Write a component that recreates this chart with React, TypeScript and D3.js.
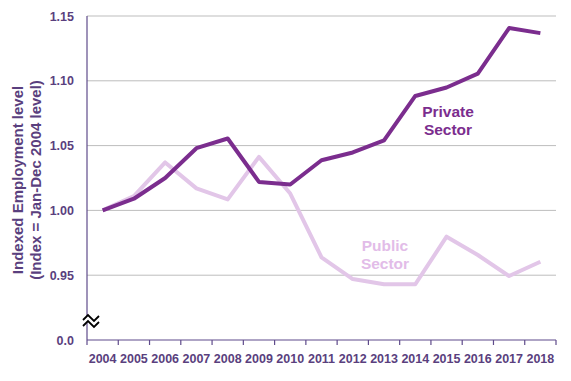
import React from "react";
import * as d3 from "d3";

const years = ["2004","2005","2006","2007","2008","2009","2010","2011","2012","2013","2014","2015","2016","2017","2018"];
const privateSector = [1.0, 1.009, 1.025, 1.048, 1.0555, 1.022, 1.02, 1.0387, 1.0447, 1.054, 1.0883, 1.0948, 1.1055, 1.1407, 1.1368];
const publicSector = [1.0, 1.011, 1.037, 1.017, 1.0085, 1.0413, 1.013, 0.9638, 0.947, 0.943, 0.943, 0.9797, 0.9656, 0.9494, 0.9604];
const yTicks = [0.95, 1.0, 1.05, 1.1, 1.15];
const yTickLabels = ["0.95", "1.00", "1.05", "1.10", "1.15"];

const W = 571, H = 381;
const left = 87, right = 556, top = 16, bottom = 340;
const textCol = "#5a3f7e";

export default function App() {
  const x = d3.scaleBand().domain(years).range([left, right]);
  const y = d3.scaleLinear().domain([0.9, 1.15]).range([bottom, top]);
  const cx = (d: string) => (x(d) as number) + x.bandwidth() / 2;
  const line = d3.line<number>().x((_, i) => cx(years[i])).y((v) => y(v));
  const font = "'Liberation Sans', Arial, sans-serif";
  const by = 323, bx = 90;
  return (
    <svg width={W} height={H} style={{ position: "absolute", left: 0, top: 0 }} fontFamily={font}>
      {yTicks.map((t) => (
        <line key={t} x1={left} x2={right} y1={y(t)} y2={y(t)} stroke="#bdbdbd" strokeWidth={1} />
      ))}
      <line x1={left} x2={left} y1={top} y2={bottom} stroke="#5f4b8b" strokeWidth={1.2} />
      <line x1={left} x2={right} y1={bottom} y2={bottom} stroke="#5f4b8b" strokeWidth={1.2} />
      {[...years.map((d) => x(d) as number), right].map((p, i) => (
        <line key={i} x1={p} x2={p} y1={bottom} y2={bottom + 5} stroke="#5f4b8b" strokeWidth={1.2} />
      ))}
      {yTicks.map((t, i) => (
        <text key={t} x={74} y={y(t) + 4.5} textAnchor="end" fontSize={12.5} fontWeight="bold" fill={textCol}>{yTickLabels[i]}</text>
      ))}
      <text x={74} y={bottom + 4.5} textAnchor="end" fontSize={12.5} fontWeight="bold" fill={textCol}>0.0</text>
      {years.map((d) => (
        <text key={d} x={cx(d)} y={363} textAnchor="middle" fontSize={12.5} fontWeight="bold" fill={textCol}>{d}</text>
      ))}
      <g transform="translate(23,180) rotate(-90)">
        <text x={0} y={0} textAnchor="middle" fontSize={15} fontWeight="bold" fill={textCol}>Indexed Employment level</text>
        <text x={0} y={18} textAnchor="middle" fontSize={15} fontWeight="bold" fill={textCol}>(Index = Jan-Dec 2004 level)</text>
      </g>
      <g>
        <path d={`M${bx - 7},${by - 3} L${bx - 2},${by - 8} L${bx + 4},${by - 2} L${bx + 9},${by - 7} L${bx + 9},${by} L${bx + 4},${by + 5} L${bx - 2},${by - 1} L${bx - 7},${by + 4} Z`} fill="white" stroke="none" />
        <path d={`M${bx - 7},${by - 3} L${bx - 2},${by - 8} L${bx + 4},${by - 2} L${bx + 9},${by - 7}`} fill="none" stroke="black" strokeWidth={1.8} />
        <path d={`M${bx - 7},${by + 3} L${bx - 2},${by - 2} L${bx + 4},${by + 4} L${bx + 9},${by - 1}`} fill="none" stroke="black" strokeWidth={1.8} />
      </g>
      <path d={line(publicSector) || ""} fill="none" stroke="#e2c6e8" strokeWidth={4} strokeLinejoin="round" />
      <path d={line(privateSector) || ""} fill="none" stroke="#7b2d8e" strokeWidth={4} strokeLinejoin="round" />
      <text x={448} y={117} textAnchor="middle" fontSize={15.5} fontWeight="bold" fill="#7b2d8e">Private</text>
      <text x={448} y={135} textAnchor="middle" fontSize={15.5} fontWeight="bold" fill="#7b2d8e">Sector</text>
      <text x={385} y={251} textAnchor="middle" fontSize={15.5} fontWeight="bold" fill="#e2bce8">Public</text>
      <text x={385} y={269} textAnchor="middle" fontSize={15.5} fontWeight="bold" fill="#e2bce8">Sector</text>
    </svg>
  );
}
